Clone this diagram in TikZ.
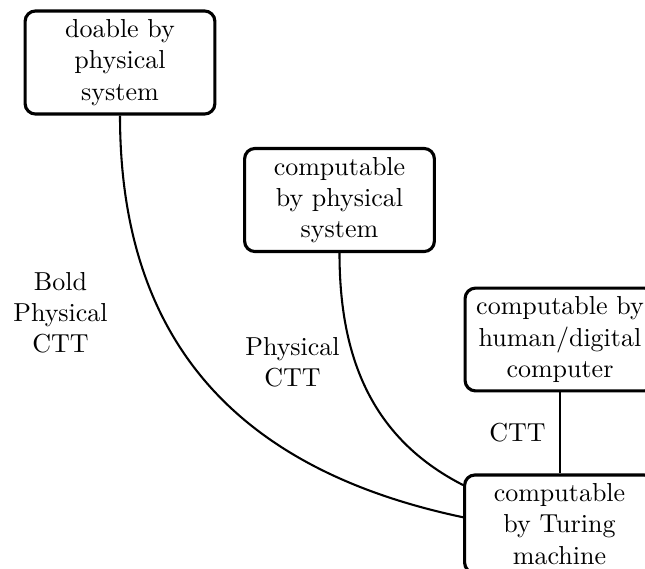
\documentclass[tikz,border=0pt]{standalone}
\begin{document}
\begin{tikzpicture}[x=0.3846pt,y=0.3846pt,
  box/.style={draw,very thick,rounded corners=4pt,minimum width=73pt,align=center,inner sep=3.33pt},
  lbl/.style={align=center,inner sep=0pt},
  conn/.style={thick}]
\useasboundingbox (0,0) rectangle (645,568);
\clip (0,0) rectangle (645,568);
\node[box] (a) at (120,505.5) {doable by\\physical\\system};
\node[box] (b) at (339.5,368) {computable\\by physical\\system};
\node[box] (c) at (560,228.5) {computable by\\human/digital\\computer};
\node[box] (d) at (559.5,44) {computable\\by Turing\\machine};
\node[lbl] (l1) at (60.5,255) {Bold\\Physical\\CTT};
\node[lbl] (l2) at (292.5,206) {Physical\\CTT};
\node[lbl] (l3) at (517.5,135) {CTT};
\draw[conn] (a.south) .. controls +(0,-228) and +(-223,47) .. (d.176);
\draw[conn] (b.south) .. controls +(0,-103.5) and +(-92,47) .. (d.158);
\draw[conn] (c.south) -- (c.south |- d.north);
\end{tikzpicture}
\end{document}
